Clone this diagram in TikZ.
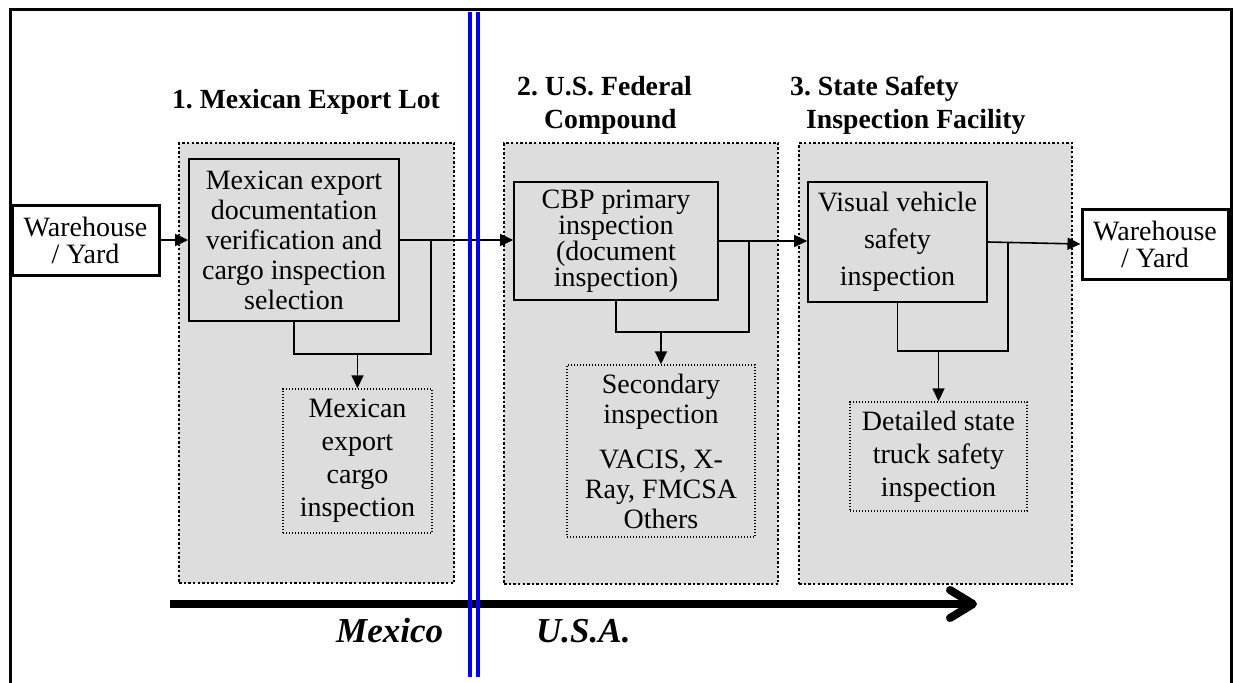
\documentclass[tikz,border=0pt]{standalone}
\usepackage{fontspec}
\setmainfont{Liberation Serif}
\usetikzlibrary{arrows.meta}
\definecolor{zonegray}{RGB}{221,221,221}
\definecolor{lineblue}{RGB}{0,0,255}
\frenchspacing
\tikzset{
  txt/.style={font=\fontsize{28}{30}\selectfont, align=center, inner sep=0pt},
  solidbox/.style={txt, draw, line width=1.6pt, fill=zonegray},
  dotbox/.style={txt, draw, line width=1.4pt, dash pattern=on 1.4pt off 1.6pt},
  whbox/.style={txt, draw, line width=3pt, fill=white},
  zone/.style={draw, fill=zonegray, line width=2.4pt, dash pattern=on 2.4pt off 2.2pt, inner sep=0pt},
  conn/.style={line width=1.6pt},
  arr/.style={conn, -{Triangle[length=13pt,width=12pt]}},
  ttl/.style={font=\fontsize{27.7}{31}\selectfont\bfseries, inner sep=0pt},
  country/.style={font=\fontsize{35}{40}\selectfont\bfseries\itshape, inner sep=0pt},
}
\begin{document}
\begin{tikzpicture}[x=1pt,y=-1pt]
\useasboundingbox (0,0) rectangle (1235,683);
% frame
\draw[line width=3pt] (10,700) -- (10,9) -- (1231,9) -- (1231,700);
% zones
\node[zone, minimum width=275, minimum height=440, anchor=north west] (z1) at (178,142) {};
\node[zone, minimum width=274, minimum height=441, anchor=north west] (z2) at (503,142) {};
\node[zone, minimum width=273, minimum height=441, anchor=north west] (z3) at (798,142) {};
% titles
\node[ttl, anchor=base] (t1) at (306,108) {1. Mexican Export Lot};
\node[ttl, anchor=base west] (t2a) at (517,95) {2. U.S. Federal};
\node[ttl, anchor=base west] (t2b) at (544,128) {Compound};
\node[ttl, anchor=base west] (t3a) at (790,95) {3. State Safety};
\node[ttl, anchor=base west] (t3b) at (806,128) {Inspection Facility};
% boxes
\node[whbox, font=\fontsize{28}{27}\selectfont, minimum width=147, minimum height=70] (wh1) at (85.5,240) {Warehouse\\/ Yard};
\node[solidbox, minimum width=210, minimum height=162] (mx) at (294,240) {Mexican export\\documentation\\verification and\\cargo inspection\\selection};
\node[dotbox, font=\fontsize{28}{33}\selectfont, minimum width=149, minimum height=144] (cargo) at (357.5,461) {Mexican\\export\\cargo\\inspection};
\node[solidbox, font=\fontsize{28}{26}\selectfont, minimum width=204, minimum height=118] (cbp) at (616,241) {CBP primary\\inspection\\(document\\inspection)};
\node[dotbox, font=\fontsize{28}{30}\selectfont, minimum width=188, minimum height=172] (sec) at (661,451) {Secondary\\inspection\\[15pt]VACIS, X-\\Ray, FMCSA\\Others};
\node[solidbox, font=\fontsize{28}{37}\selectfont, minimum width=179, minimum height=120] (vis) at (897.5,242) {Visual vehicle\\safety\\inspection};
\node[dotbox, font=\fontsize{28}{33}\selectfont, minimum width=177, minimum height=109] (det) at (938.5,456.5) {Detailed state\\truck safety\\inspection};
\node[whbox, font=\fontsize{28}{27}\selectfont, minimum width=146, minimum height=70] (wh2) at (1155,244) {Warehouse\\/ Yard};
% connectors
\draw[arr] (wh1.east) -- (mx.west);
\draw[arr] (mx.east) -- (mx.east -| cbp.west);
\coordinate (j1) at (431,240);
\coordinate (k1) at (294,354);
\draw[conn] (j1) |- (k1) -- (mx.south);
\draw[arr] (k1 -| cargo.north) -- (cargo.north);
\draw[arr] (cbp.east) -- (cbp.east -| vis.west);
\coordinate (j2) at (749,241);
\coordinate (k2) at (616,332);
\draw[conn] (j2) |- (k2) -- (cbp.south);
\draw[arr] (k2 -| sec.north) -- (sec.north);
\draw[arr] (vis.east) -- (wh2.west);
\coordinate (j3) at (1008,242);
\coordinate (k3) at (897.5,351);
\draw[conn] (j3) |- (k3) -- (vis.south);
\draw[arr] (k3 -| det.north) -- (det.north);
% big arrow
\coordinate (ts) at (170,604);
\coordinate (te) at (970,604);
\draw[line width=8pt] (ts) -- (te);
\draw[line width=8pt, line cap=round, line join=round] (950,590) -- (973,604) -- (950,618);
% border
\draw[lineblue, line width=4pt] (470,12) -- (470,677);
\draw[lineblue, line width=4pt] (478,12) -- (478,677);
% country labels
\node[country, anchor=base west] (mex) at (336,642) {Mexico};
\node[country, anchor=base west] (usa) at (536,642) {U.S.A.};
\end{tikzpicture}
\end{document}
